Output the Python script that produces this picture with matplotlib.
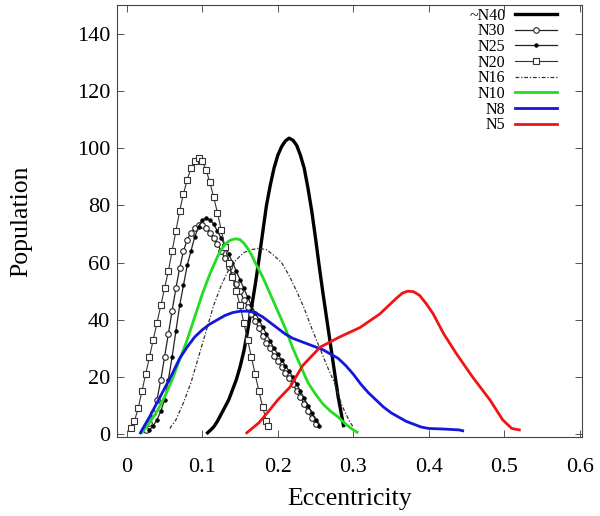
import matplotlib
matplotlib.use("Agg")
import matplotlib.pyplot as plt

plt.rcParams['font.family'] = ['Liberation Serif', 'DejaVu Serif']

# ---- data ----
n40_x = [0.107, 0.11, 0.115, 0.12, 0.125, 0.13, 0.135, 0.14, 0.145, 0.15, 0.155, 0.16,
         0.165, 0.17, 0.175, 0.18, 0.185, 0.19, 0.195, 0.2, 0.205, 0.21, 0.215, 0.22,
         0.225, 0.23, 0.235, 0.24, 0.245, 0.25, 0.255, 0.26, 0.265, 0.27, 0.275, 0.28,
         0.285, 0.287]
n40_y = [0.5, 1.2, 2.5, 4.5, 7, 9.5, 12, 15.5, 19, 23.5, 29, 36,
         44, 52, 61, 70.5, 80, 87, 93, 97.5, 100.5, 102.5, 103.5, 102.8,
         101, 97.5, 93, 86, 78, 68.5, 58.5, 49, 40, 31, 22, 13,
         6, 3]

n30_x = [0.025, 0.03, 0.035, 0.04, 0.045, 0.05, 0.055, 0.06, 0.065, 0.07, 0.075, 0.08,
         0.085, 0.09, 0.095, 0.1, 0.105, 0.11, 0.115, 0.12, 0.125, 0.13, 0.135, 0.14,
         0.145, 0.15, 0.155, 0.16, 0.165, 0.17, 0.175, 0.18, 0.185, 0.19, 0.195, 0.2,
         0.205, 0.21, 0.215, 0.22, 0.225, 0.23, 0.235, 0.24, 0.245, 0.25]
n30_y = [1.5, 4, 7.5, 12, 19, 27, 35, 43, 51, 58, 64, 68,
         70.5, 72, 73, 73, 72, 70.5, 68.5, 66.5, 64, 61.5, 58.5, 55.5,
         52.5, 50, 47, 44.5, 42, 39.5, 37, 34.5, 32, 30, 27.5, 25.5,
         23.5, 21.5, 19.5, 17.5, 15, 13, 10.5, 8, 5.5, 3.5]

n25_x = [0.03, 0.035, 0.04, 0.045, 0.05, 0.055, 0.06, 0.065, 0.07, 0.075, 0.08, 0.085,
         0.09, 0.095, 0.1, 0.105, 0.11, 0.115, 0.12, 0.125, 0.13, 0.135, 0.14, 0.145,
         0.15, 0.155, 0.16, 0.165, 0.17, 0.175, 0.18, 0.185, 0.19, 0.195, 0.2, 0.205,
         0.21, 0.215, 0.22, 0.225, 0.23, 0.235, 0.24, 0.245, 0.25, 0.255]
n25_y = [1.5, 3, 5, 8, 12, 19, 27, 36, 45, 52, 59, 64,
         69, 72.5, 75, 75.5, 75, 73.5, 71, 68.5, 66, 63, 60, 57,
         54, 51, 48, 45, 42.5, 40, 37.5, 35, 32.5, 30, 28, 26,
         24, 22, 20, 17.5, 15, 12.5, 10, 7.5, 5, 3]

n20_x = [0.005, 0.01, 0.015, 0.02, 0.025, 0.03, 0.035, 0.04, 0.045, 0.05, 0.055, 0.06,
         0.065, 0.07, 0.075, 0.08, 0.085, 0.09, 0.095, 0.1, 0.105, 0.11, 0.115, 0.12,
         0.125, 0.13, 0.135, 0.14, 0.145, 0.15, 0.155, 0.16, 0.165, 0.17, 0.175, 0.18,
         0.185, 0.187]
n20_y = [2, 4.5, 9, 15, 21, 27, 33, 39, 45, 51, 57, 64,
         71, 78, 84, 89, 93, 95.5, 96.5, 95.5, 92.5, 88, 83, 77.5,
         71.5, 65.5, 60, 55, 50, 45, 39, 33, 27, 21, 15, 9.5,
         4.5, 3]

n16_x = [0.057, 0.065, 0.075, 0.085, 0.095, 0.105, 0.115, 0.125, 0.135, 0.145, 0.155,
         0.165, 0.175, 0.185, 0.195, 0.205, 0.215, 0.225, 0.235, 0.245, 0.255, 0.265,
         0.275, 0.285, 0.295, 0.3]
n16_y = [2, 5, 11, 18, 27, 36, 45, 52, 57.5, 61, 63.5,
         64.5, 65, 64.5, 62.5, 60, 55.5, 50, 44, 37, 30.5, 24,
         18, 10, 4.5, 2.5]

n10_x = [0.02, 0.03, 0.04, 0.05, 0.06, 0.07, 0.08, 0.09, 0.1, 0.11, 0.12, 0.125, 0.13,
         0.135, 0.14, 0.145, 0.15, 0.155, 0.16, 0.165, 0.17, 0.18, 0.19, 0.2, 0.21,
         0.22, 0.23, 0.24, 0.25, 0.26, 0.27, 0.28, 0.29, 0.3, 0.305]
n10_y = [0.5, 4, 8, 13, 19, 26, 33, 41, 49, 56, 62, 64.5, 66.3,
         67.5, 68.1, 68.3, 68, 66.8, 65, 62.8, 60, 55, 49, 43, 37,
         30, 24, 18, 14, 10.5, 8, 6, 3.5, 1.5, 0.7]

n8_x = [0.018, 0.03, 0.04, 0.05, 0.06, 0.07, 0.08, 0.09, 0.1, 0.11, 0.12, 0.13, 0.14,
        0.15, 0.16, 0.17, 0.18, 0.19, 0.2, 0.21, 0.22, 0.23, 0.24, 0.25, 0.26, 0.27,
        0.28, 0.29, 0.3, 0.31, 0.32, 0.33, 0.34, 0.35, 0.36, 0.37, 0.38, 0.39, 0.4,
        0.42, 0.44, 0.445]
n8_y = [0.5, 6, 11, 16, 21, 26.5, 30.5, 34, 36.5, 38.5, 40, 41.5, 42.5,
        43, 43, 42.5, 41, 39, 37, 35, 33.5, 32.5, 31.5, 30.5, 29.5, 28,
        26.5, 24, 21, 17.5, 14.5, 12, 9.5, 7.5, 6, 4.5, 3.5, 2.5, 2,
        1.8, 1.5, 1.2]

n5_x = [0.159, 0.175, 0.189, 0.2, 0.216, 0.233, 0.256, 0.282, 0.309, 0.335, 0.347,
        0.357, 0.365, 0.372, 0.38, 0.388, 0.397, 0.406, 0.42, 0.437, 0.458, 0.481,
        0.498, 0.51, 0.52]
n5_y = [0.5, 4, 8.4, 12, 16.4, 24, 30.4, 34, 37.3, 42, 45,
        47.5, 49.3, 50, 49.8, 48.5, 45.5, 42, 35, 28, 20, 12,
        5, 2, 1.5]

labels = ['~N40', 'N30', 'N25', 'N20', 'N16', 'N10', 'N8', 'N5']
x_ticks = [0, 0.1, 0.2, 0.3, 0.4, 0.5, 0.6]
y_ticks = [0, 20, 40, 60, 80, 100, 120, 140]

fig = plt.figure(figsize=(6.0, 5.16), dpi=100)
ax = fig.add_axes([0.195, 0.153, 0.775, 0.837])

ax.plot(n40_x, n40_y, color='black', lw=2.4, label=labels[0])
ax.plot(n30_x, n30_y, color='#222222', lw=0.9, marker='o', ms=4, mfc='white',
        mec='#222222', mew=0.8, label=labels[1])
ax.plot(n25_x, n25_y, color='#222222', lw=0.9, marker='o', ms=2.6, mfc='black',
        mec='black', mew=0.5, label=labels[2])
ax.plot(n20_x, n20_y, color='#333333', lw=0.8, marker='s', ms=4.2, mfc='white',
        mec='#333333', mew=0.8, label=labels[3])
ax.plot(n16_x, n16_y, color='#333333', lw=0.9, ls=(0, (3, 1.5, 1, 1.5)),
        label=labels[4])
ax.plot(n10_x, n10_y, color='#22dd22', lw=2.0, label=labels[5])
ax.plot(n8_x, n8_y, color='#1515dd', lw=2.0, label=labels[6])
ax.plot(n5_x, n5_y, color='#ee1515', lw=2.0, label=labels[7])

ax.set_xlim(-0.013, 0.603)
ax.set_ylim(-1, 150)
ax.set_xticks(x_ticks)
ax.set_xticklabels(['0', '0.1', '0.2', '0.3', '0.4', '0.5', '0.6'])
ax.set_yticks(y_ticks)
ax.tick_params(direction='in', top=True, right=True, length=5, width=0.7,
               color='#555555', labelsize=16)
ax.tick_params(axis='x', pad=15)
ax.tick_params(axis='y', pad=5)
for s in ax.spines.values():
    s.set_color('#444444')
    s.set_linewidth(0.8)

ax.set_xlabel('Eccentricity', fontsize=18.5, labelpad=8)
ax.set_ylabel('Population', fontsize=18.5, labelpad=32)

leg = ax.legend(loc='upper right', bbox_to_anchor=(0.952, 1.0), frameon=False,
                fontsize=11.5, markerfirst=False, labelspacing=-0.02,
                handlelength=2.65, handletextpad=0.6, borderaxespad=0.0,
                borderpad=0.15, numpoints=1)
leg.legend_handles[2].set_markersize(2.6)

fig.savefig('out.png', dpi=100)
